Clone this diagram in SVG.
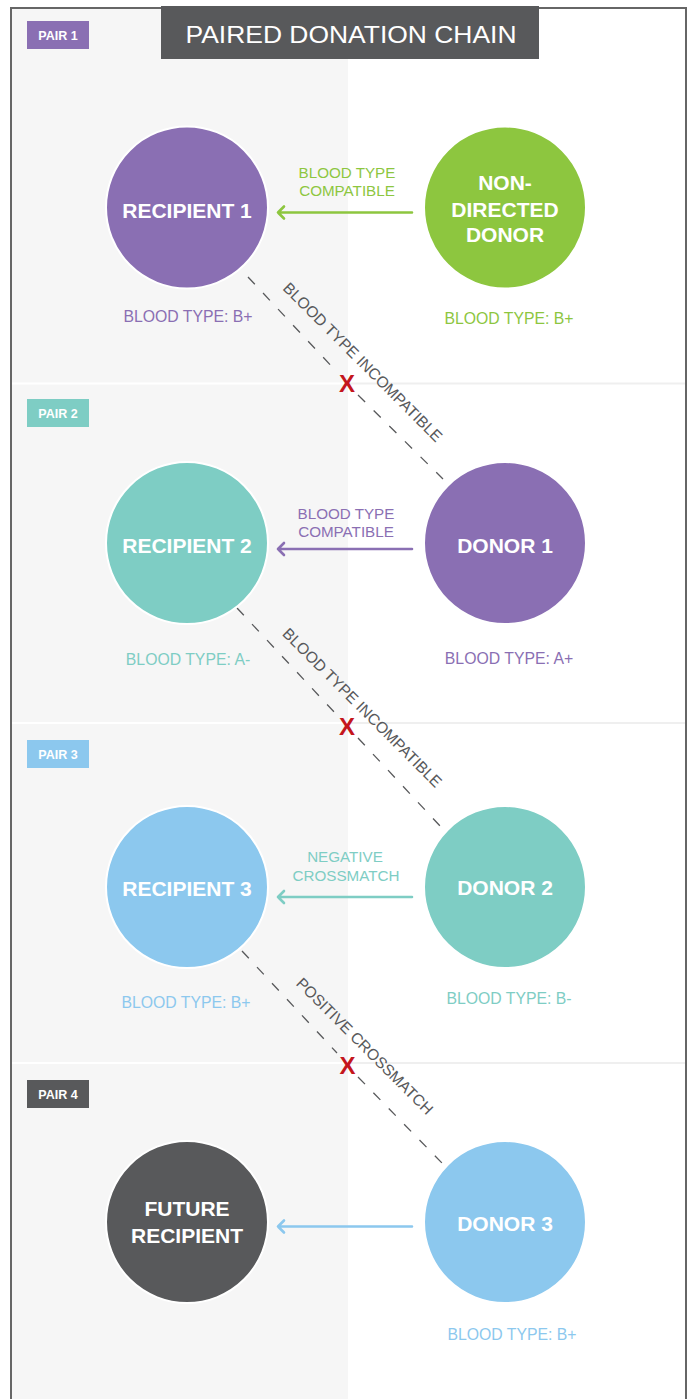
<svg xmlns="http://www.w3.org/2000/svg" width="694" height="1399" viewBox="0 0 694 1399">
<style>
text{font-family:"Liberation Sans",Arial,sans-serif}
.node{stroke:#fff;stroke-width:2}
.ntext{fill:#fff;font-weight:bold;font-size:21px;text-anchor:middle}
.bt{font-size:15.8px;text-anchor:middle}
.al{font-size:15.2px;text-anchor:middle}
.tag text{fill:#fff;font-weight:bold;font-size:12.5px;text-anchor:middle}
.arrow{fill:none;stroke-width:2.6;stroke-linecap:round;stroke-linejoin:round}
.dash{fill:none;stroke:#58595b;stroke-width:1.3;stroke-dasharray:10 12}
.inc{fill:#58595b;font-size:15.6px;text-anchor:middle}
.x{fill:#c4161c;font-weight:bold;font-size:24px;text-anchor:middle}
.purple{fill:#8a6fb3}.green{fill:#8dc63f}.teal{fill:#7ecdc4}.blue{fill:#8cc8ee}.dark{fill:#58595b}
.spurple{stroke:#8a6fb3}.sgreen{stroke:#8dc63f}.steal{stroke:#7ecdc4}.sblue{stroke:#8cc8ee}
</style>
<rect width="694" height="1399" fill="#fff"/>
<g id="background">
<rect x="12" y="8" width="336" height="1391" fill="#f6f6f6"/>
<path d="M12,383.5H348M12,723H348M12,1063H348" stroke="#fff" stroke-width="2"/>
<path d="M348,383.5H686M348,723H686M348,1063H686" stroke="#efefef" stroke-width="2"/>
<path d="M11,1399V8H686V1399" fill="none" stroke="#666" stroke-width="2"/>
</g>
<g id="title">
<rect x="161" y="6" width="378" height="53" fill="#58595b"/>
<text x="351" y="43" fill="#fff" font-size="24" text-anchor="middle" textLength="331" lengthAdjust="spacingAndGlyphs">PAIRED DONATION CHAIN</text>
</g>
<g id="tags" class="tag">
<g id="tag-pair1"><rect x="27" y="21" width="62" height="28" class="purple"/><text x="58" y="39.5">PAIR 1</text></g>
<g id="tag-pair2"><rect x="27" y="399" width="62" height="28" class="teal"/><text x="58" y="417.5">PAIR 2</text></g>
<g id="tag-pair3"><rect x="27" y="740" width="62" height="28" class="blue"/><text x="58" y="758.5">PAIR 3</text></g>
<g id="tag-pair4"><rect x="27" y="1080" width="62" height="28" class="dark"/><text x="58" y="1098.5">PAIR 4</text></g>
</g>
<g id="connectors">
<path class="arrow sgreen" d="M412,212.5H278M284,206.5L278,212.5L284,218.5"/>
<path class="arrow spurple" d="M412,549H278M284,543L278,549L284,555"/>
<path class="arrow steal" d="M412,897H278M284,891L278,897L284,903"/>
<path class="arrow sblue" d="M412,1226.5H278M284,1220.5L278,1226.5L284,1232.5"/>
<text class="al green" x="347" y="178">BLOOD TYPE</text>
<text class="al green" x="347" y="196">COMPATIBLE</text>
<text class="al purple" x="346" y="519">BLOOD TYPE</text>
<text class="al purple" x="346" y="537">COMPATIBLE</text>
<text class="al teal" x="345" y="862">NEGATIVE</text>
<text class="al teal" x="346" y="881">CROSSMATCH</text>
<path class="dash" d="M248,277L336,371M358,395L443,479"/>
<path class="dash" d="M237,608L336,714M358,738L441,827"/>
<path class="dash" d="M242,951L337,1053M358,1077L442,1163"/>
<text class="inc" transform="translate(359,366) rotate(45)">BLOOD TYPE INCOMPATIBLE</text>
<text class="inc" transform="translate(358.5,711.5) rotate(45)">BLOOD TYPE INCOMPATIBLE</text>
<text class="inc" transform="translate(361,1050) rotate(45)">POSITIVE CROSSMATCH</text>
<text class="x" x="347" y="392">X</text>
<text class="x" x="347" y="735">X</text>
<text class="x" x="347.5" y="1073.5">X</text>
</g>
<g id="recipient1"><circle class="node purple" cx="187" cy="207.5" r="81"/><text class="ntext" x="187" y="218">RECIPIENT 1</text><text class="bt purple" x="188" y="322">BLOOD TYPE: B+</text></g>
<g id="nondirected-donor"><circle class="node green" cx="505" cy="207.5" r="81"/><text class="ntext" x="505" y="190">NON-</text><text class="ntext" x="505" y="217">DIRECTED</text><text class="ntext" x="505" y="242">DONOR</text><text class="bt green" x="509" y="324">BLOOD TYPE: B+</text></g>
<g id="recipient2"><circle class="node teal" cx="187" cy="543" r="81"/><text class="ntext" x="187" y="553">RECIPIENT 2</text><text class="bt teal" x="188" y="665">BLOOD TYPE: A-</text></g>
<g id="donor1"><circle class="node purple" cx="505" cy="543" r="81"/><text class="ntext" x="505" y="553">DONOR 1</text><text class="bt purple" x="509" y="664">BLOOD TYPE: A+</text></g>
<g id="recipient3"><circle class="node blue" cx="187" cy="887" r="81"/><text class="ntext" x="187" y="896">RECIPIENT 3</text><text class="bt blue" x="186" y="1008">BLOOD TYPE: B+</text></g>
<g id="donor2"><circle class="node teal" cx="505" cy="887" r="81"/><text class="ntext" x="505" y="895">DONOR 2</text><text class="bt teal" x="509" y="1004">BLOOD TYPE: B-</text></g>
<g id="future-recipient"><circle class="node dark" cx="187" cy="1222" r="81"/><text class="ntext" x="187" y="1216">FUTURE</text><text class="ntext" x="187" y="1243">RECIPIENT</text></g>
<g id="donor3"><circle class="node blue" cx="505" cy="1222" r="81"/><text class="ntext" x="505" y="1231">DONOR 3</text><text class="bt blue" x="512" y="1340">BLOOD TYPE: B+</text></g>
</svg>
